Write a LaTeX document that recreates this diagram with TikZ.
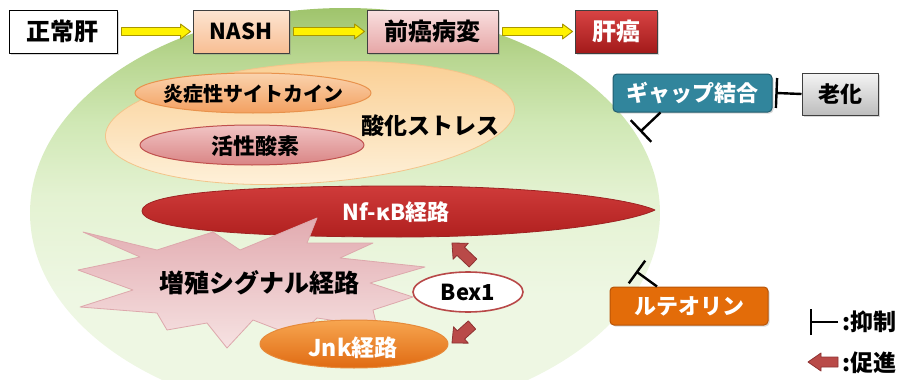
\documentclass[tikz,border=0pt]{standalone}
\usepackage{fontspec}
\setmainfont{Noto Sans CJK JP}
\newfontfamily\jp{Noto Sans CJK JP}
\usetikzlibrary{calc,shapes.geometric,arrows.meta,shadows}
\newcommand\fs[1]{\fontsize{#1}{#1}\selectfont}
\newcommand\J[1]{{\jp #1}}
% block arrow: [style]{from}{to}{shaft half width}{head half width}{head length}
\newcommand{\blockarrow}[6][]{%
  \path[#1] let \p1=#2, \p2=#3, \n1={atan2(\y2-\y1,\x2-\x1)}, \n2={veclen(\x2-\x1,\y2-\y1)} in
    [shift={(\p1)}, rotate=\n1]
    (0,#4) -- ({\n2-#6},#4) -- ({\n2-#6},#5) -- (\n2,0) -- ({\n2-#6},-#5) -- ({\n2-#6},-#4) -- (0,-#4) -- cycle;}
% inhibition connector: {from}{to}{bar half length}
\newcommand{\inhibit}[3]{%
  \draw[inhib] #1 -- #2;
  \path[inhib] let \p1=#1, \p2=#2, \n1={atan2(\y2-\y1,\x2-\x1)} in
    [shift={(\p2)}, rotate=\n1] (0,-#3) -- (0,#3);}
\definecolor{gtop}{HTML}{9FC46C}
\definecolor{g2}{HTML}{B8D690}
\definecolor{g3}{HTML}{D0E8B5}
\definecolor{g4}{HTML}{E4F2D2}
\definecolor{gbot}{HTML}{EEF7E3}
\pgfdeclareverticalshading{greensh}{100bp}{color(0bp)=(gbot); color(40bp)=(gbot); color(52bp)=(g4); color(61bp)=(g3); color(69bp)=(g2); color(75bp)=(gtop); color(100bp)=(gtop)}
\definecolor{ptop}{HTML}{FAD096}
\definecolor{pbot}{HTML}{FEF2DC}
\definecolor{pline}{HTML}{F3C48A}
\definecolor{otop}{HTML}{FAD3AE}
\definecolor{obot}{HTML}{F3A060}
\definecolor{oline}{HTML}{E8924C}
\definecolor{rtop}{HTML}{F1C4C4}
\definecolor{rbot}{HTML}{D98484}
\definecolor{rline}{HTML}{C0504D}
\definecolor{nftop}{HTML}{CF3B3A}
\definecolor{nfbot}{HTML}{B0201F}
\definecolor{nfline}{HTML}{9E2222}
\definecolor{stop}{HTML}{E2ABB0}
\definecolor{sbot}{HTML}{F6E2E2}
\definecolor{sline}{HTML}{DDA8AC}
\definecolor{jtop}{HTML}{F7A650}
\definecolor{jbot}{HTML}{E06A12}
\definecolor{jline}{HTML}{E68A3A}
\definecolor{arrf}{HTML}{B94A48}
\definecolor{arrl}{HTML}{8E3232}
\definecolor{yline}{HTML}{A89600}
\definecolor{boxline}{HTML}{3F3F3F}
\definecolor{nashtop}{HTML}{FDE5D2}
\definecolor{nashbot}{HTML}{F8BE93}
\definecolor{pretop}{HTML}{F9DFDF}
\definecolor{prebot}{HTML}{E6A6A6}
\definecolor{cantop}{HTML}{D84444}
\definecolor{canbot}{HTML}{A31A1A}
\definecolor{gapc}{HTML}{31859C}
\definecolor{gapline}{HTML}{215D6E}
\definecolor{grtop}{HTML}{F4F4F4}
\definecolor{grbot}{HTML}{BDBDBD}
\definecolor{lutc}{HTML}{E36C09}
\definecolor{lutline}{HTML}{B85407}
\definecolor{bexb}{HTML}{B84848}
\tikzset{
  shadowed/.style={drop shadow={shadow xshift=1.5pt, shadow yshift=-1.5pt, opacity=.3}},
  topbox/.style={draw=boxline, line width=0.9pt, minimum height=43pt, inner sep=0pt, font=\fs{24}\jp\bfseries, shadowed},
  sidebox/.style={line width=1pt, minimum height=38pt, inner sep=0pt, font=\fs{22}\jp\bfseries, shadowed},
  yarrow/.style={fill=yellow, draw=yline, line width=0.9pt},
  promote/.style={fill=arrf, draw=arrl, line width=0.8pt},
  inhib/.style={draw=black, line width=2.4pt, line cap=butt},
  lbl/.style={inner sep=0pt, font=\fs{#1}\jp\bfseries},
  lbl/.default=22
}
\begin{document}
\begin{tikzpicture}[x=1pt,y=-1pt, line join=round]
\useasboundingbox (0,0) rectangle (906,380);
\clip (0,0) rectangle (906,380);

% big green ellipse
\shade[shading=greensh] (345,213) ellipse [x radius=315, y radius=205];

% oxidative stress ellipse
\draw[draw=pline, line width=0.8pt, top color=ptop, bottom color=pbot, rotate around={4:(310,123)}] (310,123) ellipse [x radius=205, y radius=60];
\draw[draw=oline, line width=1pt, top color=otop, bottom color=obot] (253,93) ellipse [x radius=118, y radius=20];
\draw[draw=rline, line width=1pt, top color=rtop, bottom color=rbot] (252,145) ellipse [x radius=112, y radius=20];
\node[lbl=20] (infl) at (253,94) {炎症性サイトカイン};
\node[lbl=22] (ros) at (255,146) {活性酸素};
\node[lbl=23] (oxs) at (430,126) {酸化ストレス};

% Nf-kB
\draw[draw=nfline, line width=0.8pt, top color=nftop, bottom color=nfbot]
  (142,211) .. controls (142,194) and (230,186) .. (400,186)
  .. controls (540,186) and (630,199) .. (655,210)
  .. controls (630,222) and (540,237) .. (400,237)
  .. controls (230,237) and (142,228) .. (142,211) -- cycle;
\node[inner sep=0pt, font=\fs{22}\bfseries, text=white] (nfkb) at (396,212) {Nf-κB\J{経路}};

% starburst
\draw[draw=sline, line width=0.8pt, top color=stop, bottom color=sbot]
  (83,232) -- (157,250) -- (213,232) -- (240,250) -- (317,218) -- (307,243)
  -- (373,243) -- (340,258) -- (425,267) -- (370,283) -- (413,297) -- (373,310)
  -- (377,327) -- (317,318) -- (297,337) -- (253,320) -- (227,348) -- (207,323)
  -- (167,330) -- (157,313) -- (80,307) -- (133,290) -- (78,270) -- (140,257) -- cycle;
\node[lbl=25] (prolif) at (259,283) {増殖シグナル経路};

% Jnk
\draw[draw=jline, line width=1pt, top color=jtop, bottom color=jbot] (354,344) ellipse [x radius=94, y radius=24];
\node[inner sep=0pt, font=\fs{23}\bfseries, text=white] (jnk) at (353,348) {Jnk\J{経路}};

% Bex1
\node[ellipse, draw=bexb, line width=1.6pt, fill=white, minimum width=110pt, minimum height=40pt, inner sep=0pt, font=\fs{22}\bfseries] (bex) at (468,292) {Bex1};

% promote arrows from Bex1
\coordinate (bu1) at (473,263);
\coordinate (bu2) at (452,243);
\coordinate (bd1) at (472,325);
\coordinate (bd2) at (452,343);
\blockarrow[promote]{(bu1)}{(bu2)}{5.5}{11}{12}
\blockarrow[promote]{(bd1)}{(bd2)}{5.5}{11}{12}

% top row
\node[topbox, fill=white, draw=black, minimum width=108pt] (normal) at (63,31.5) {正常肝};
\node[topbox, top color=nashtop, bottom color=nashbot, minimum width=96pt, font=\fs{22}\bfseries] (nash) at (241,31.5) {NASH};
\node[topbox, top color=pretop, bottom color=prebot, minimum width=131pt] (pre) at (432.5,31.5) {前癌病変};
\node[topbox, top color=cantop, bottom color=canbot, minimum width=82pt, text=white] (cancer) at (616,31.5) {肝癌};
\blockarrow[yarrow]{($(normal.east)+(4,0)$)}{($(nash.west)+(-2,0)$)}{4}{7.5}{10}
\blockarrow[yarrow]{($(nash.east)+(4,0)$)}{($(pre.west)+(-2,0)$)}{4}{7.5}{10}
\blockarrow[yarrow]{($(pre.east)+(4,0)$)}{($(cancer.west)+(-2,0)$)}{4}{7.5}{10}

% side boxes
\node[sidebox, fill=gapc, draw=gapline, rounded corners=4pt, minimum width=159pt, text=white] (gap) at (692.5,93) {ギャップ結合};
\node[sidebox, top color=grtop, bottom color=grbot, draw=boxline, minimum width=76pt, minimum height=42pt] (aging) at (840,94) {老化};
\node[sidebox, fill=lutc, draw=lutline, rounded corners=4pt, minimum width=158pt, text=white] (lut) at (689,306) {ルテオリン};

% inhibitions
\coordinate (gapbar) at ($(gap.east)+(4,0)$);
\inhibit{(aging.west)}{(gapbar)}{15}
\coordinate (gapinh) at (641,131);
\inhibit{($(gap.south)+(-32,0)$)}{(gapinh)}{15}
\coordinate (lutinh) at (637,272);
\inhibit{($(lut.north)+(-32,0)$)}{(lutinh)}{14}

% legend
\coordinate (lgA) at (838,322);
\coordinate (lgB) at (811,322);
\inhibit{(lgA)}{(lgB)}{13}
\node[anchor=west, inner sep=0pt, font=\fs{23}\bfseries] (lgT1) at (842,322) {:\J{抑制}};
\coordinate (lgC) at (838,362);
\coordinate (lgD) at (808,362);
\blockarrow[promote]{(lgC)}{(lgD)}{5}{9}{13}
\node[anchor=west, inner sep=0pt, font=\fs{23}\bfseries] (lgT2) at (842,363) {:\J{促進}};
\end{tikzpicture}
\end{document}
